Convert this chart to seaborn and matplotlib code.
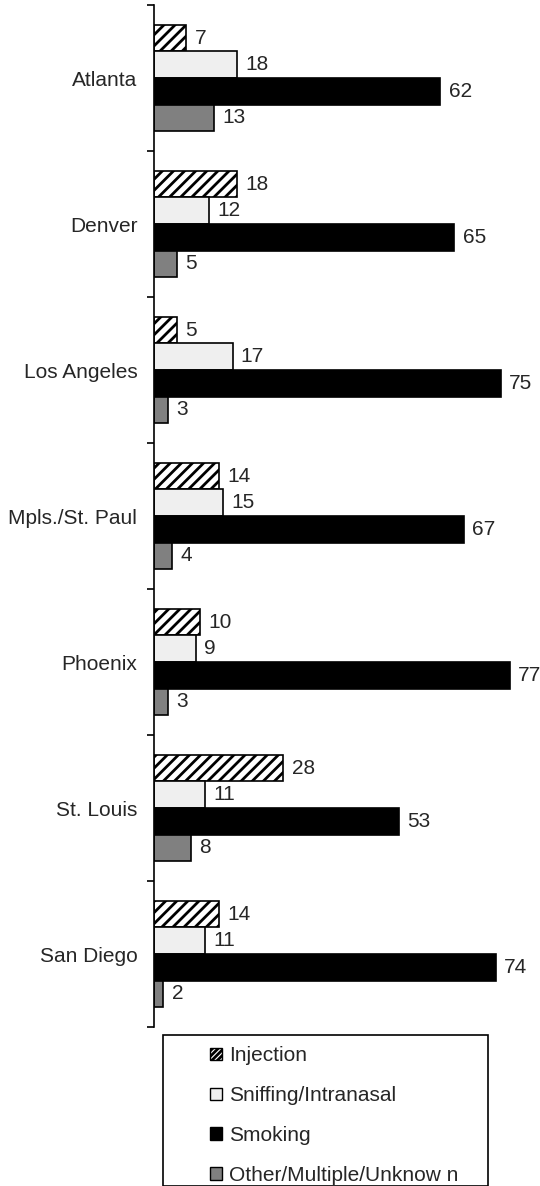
import numpy as np
import pandas as pd
import matplotlib.pyplot as plt
from matplotlib.patches import Rectangle, Patch
import seaborn as sns

cities = ["Atlanta", "Denver", "Los Angeles", "Mpls./St. Paul", "Phoenix", "St. Louis", "San Diego"]
routes = ["Injection", "Sniffing/Intranasal", "Smoking", "Other/Multiple/Unknow n"]
injection = [7, 18, 5, 14, 10, 28, 14]
sniffing = [18, 12, 17, 15, 9, 11, 11]
smoking = [62, 65, 75, 67, 77, 53, 74]
other = [13, 5, 3, 4, 3, 8, 2]

colors = ["white", "#efefef", "black", "#808080"]

sns.set_style("white")
plt.rcParams["font.family"] = ["Liberation Sans", "DejaVu Sans"]
plt.rcParams["hatch.linewidth"] = 2.0

rows = []
for route, vals in zip(routes, [injection, sniffing, smoking, other]):
    for city, v in zip(cities, vals):
        rows.append({"city": city, "route": route, "pct": v})
df = pd.DataFrame(rows)

fig = plt.figure(figsize=(5.4, 11.86), dpi=100)
ax = fig.add_axes([154 / 540, 1 - 1027 / 1186, 80 * 4.62 / 540, 1022 / 1186])

sns.barplot(data=df, y="city", x="pct", hue="route", order=cities, hue_order=routes,
            palette=colors, orient="h", width=0.73, gap=0, edgecolor="black",
            linewidth=1.2, legend=False, ax=ax)

for bar in ax.containers[0]:
    bar.set_hatch("///")

for cont in ax.containers:
    ax.bar_label(cont, fmt="%d", padding=6, fontsize=15)

ax.set_xlim(0, 80)
ax.set_ylim(6.5, -0.5)
ax.set_xlabel("")
ax.set_ylabel("")
ax.set_xticks([])
for s in ["top", "right", "bottom"]:
    ax.spines[s].set_visible(False)
ax.spines["left"].set_color("black")
ax.spines["left"].set_linewidth(1.2)
ax.tick_params(axis="y", which="major", length=0, pad=12, labelsize=15)
ax.set_yticks(np.arange(-0.5, 7.0, 1.0), minor=True)
ax.tick_params(axis="y", which="minor", length=5, width=1.2, color="black", direction="out", left=True)

# legend box
fig.add_artist(Rectangle((163 / 540, 0), (488 - 163) / 540, (1186 - 1035) / 1186,
                         transform=fig.transFigure, facecolor="white", edgecolor="black",
                         linewidth=1.2))
handles = [Patch(facecolor=c, edgecolor="black", hatch=("//////" if i == 0 else None))
           for i, c in enumerate(colors)]
fig.legend(handles, routes, loc="upper left", bbox_to_anchor=(202 / 540, 1 - 1038 / 1186),
           frameon=False, fontsize=15, handlelength=0.55, handleheight=0.55,
           handletextpad=0.35, labelspacing=1.0, borderaxespad=0)

fig.savefig("out.png", dpi=100)
